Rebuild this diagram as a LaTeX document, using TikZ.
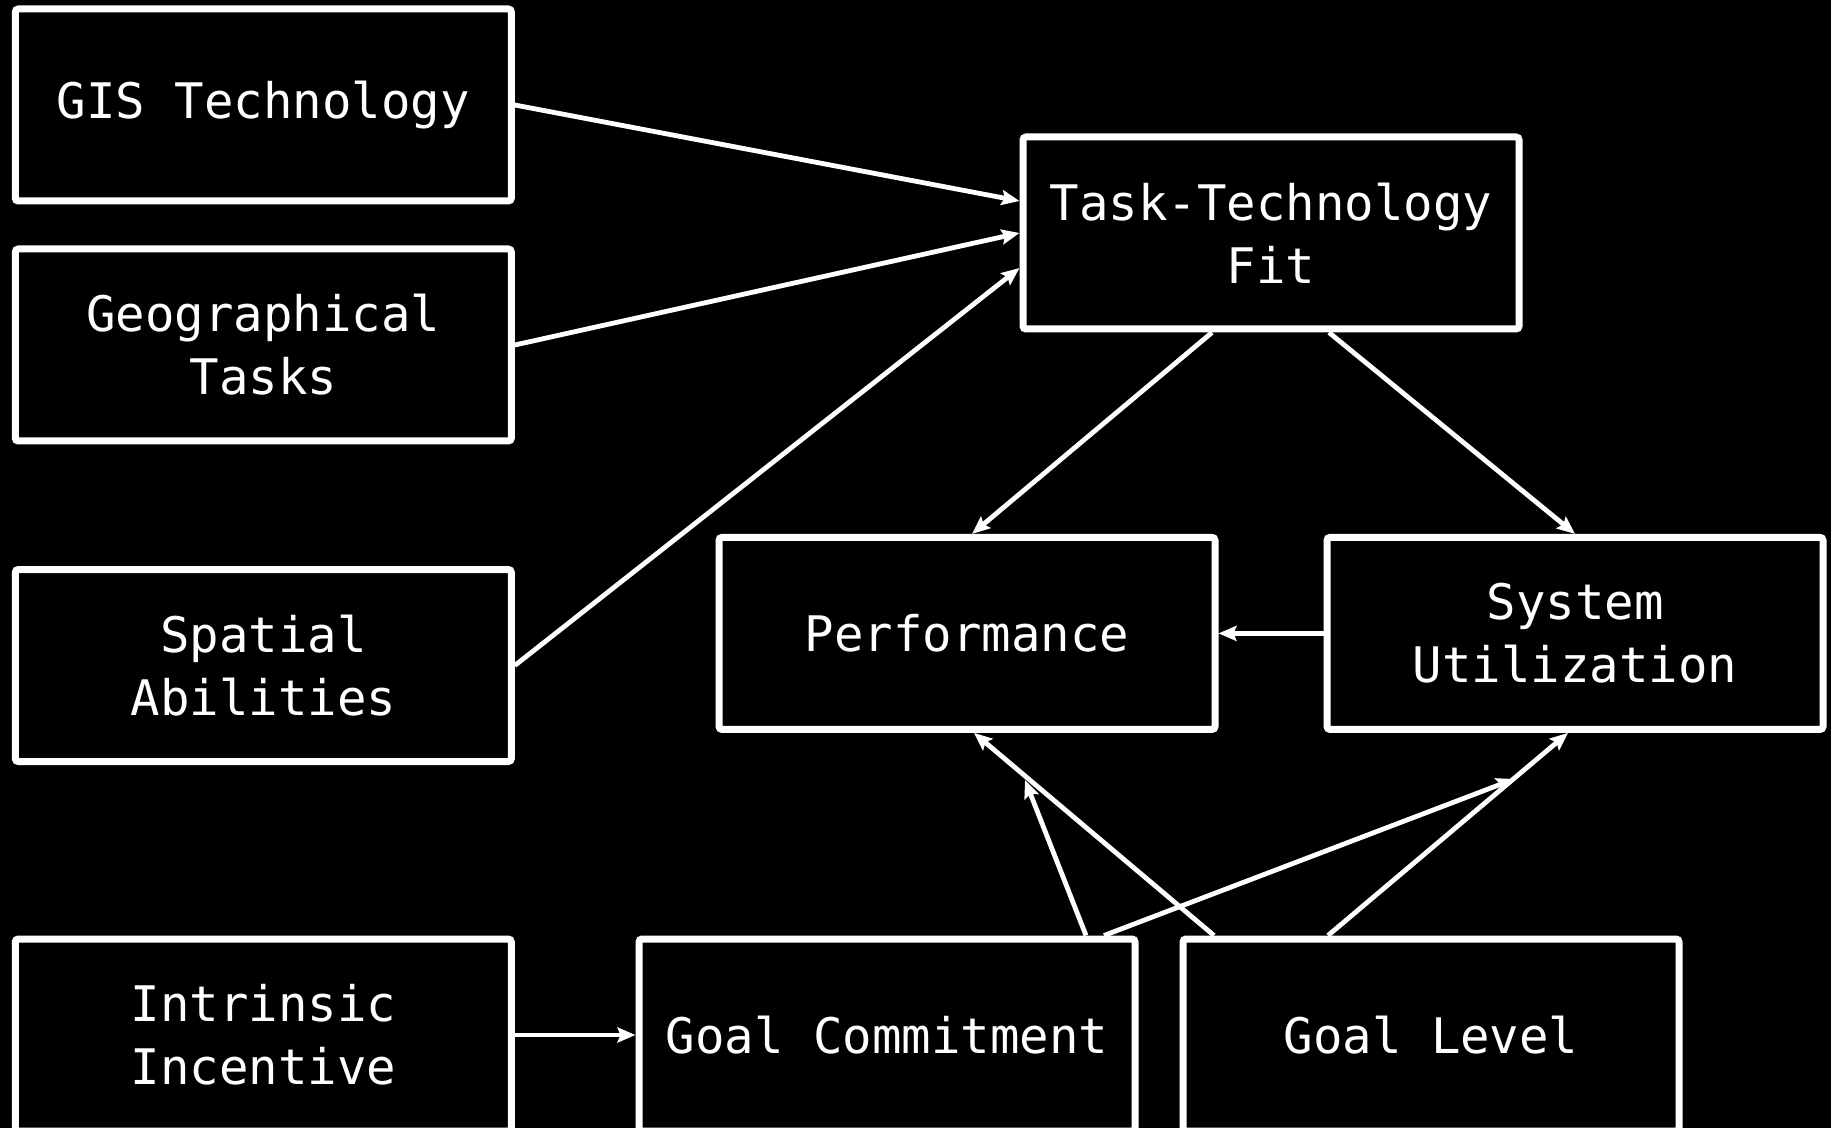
\documentclass[tikz,border=0pt]{standalone}
\usepackage{fontspec}
\setmonofont{DejaVu Sans Mono}
\usetikzlibrary{arrows.meta,calc}
\begin{document}
\begin{tikzpicture}[x=0.5pt,y=-0.5pt,
  box/.style={draw=white, line width=3.5pt, rounded corners=1.5pt, fill=black, text=white,
    minimum width=248pt, minimum height=96pt, inner sep=0pt, align=center,
    font=\ttfamily\fontsize{24.5}{31.5}\selectfont},
  arr/.style={draw=white, line width=2.4pt, -{Stealth[length=9pt,width=7.5pt,inset=1.5pt]}}
]
\fill[black] (0,0) rectangle (1831,1128);
\useasboundingbox (0,0) rectangle (1831,1128);
\clip (0,0) rectangle (1831,1128);

\node[box] (gis) at (263.3,105) {GIS Technology};
\node[box] (geo) at (263.3,345) {Geographical\\Tasks};
\node[box] (spa) at (263.3,665.5) {Spatial\\Abilities};
\node[box] (intr) at (263.3,1035) {Intrinsic\\Incentive};
\node[box] (ttf) at (1271,233) {Task-Technology\\Fit};
\node[box] (perf) at (967,633.4) {Performance};
\node[box] (su) at (1575,633.4) {System\\Utilization};
\node[box] (gc) at (887,1035) {Goal Commitment};
\node[box] (gl) at (1431,1035) {Goal Level};

\coordinate (c1) at (1025,780);
\coordinate (c2) at (1514.5,779);

\draw[arr] (gis.east) -- ($(ttf.west)+(0,-32)$);
\draw[arr] (geo.east) -- (ttf.west);
\draw[arr] (spa.east) -- ($(ttf.west)+(0,35)$);
\draw[arr] ($(ttf.south)+(-59,0)$) -- ($(perf.north)+(5,0)$);
\draw[arr] ($(ttf.south)+(58,0)$) -- (su.north);
\draw[arr] (su.west) -- (perf.east);
\draw[arr] (intr.east) -- (gc.west);
\draw[arr] ($(gc.north)+(199,0)$) -- (c1);
\draw[arr] ($(gl.north)+(-217,0)$) -- ($(perf.south)+(7,0)$);
\draw[arr] ($(gc.north)+(217,0)$) -- (c2);
\draw[arr] ($(gl.north)+(-103,0)$) -- ($(su.south)+(-7,0)$);
\end{tikzpicture}
\end{document}
